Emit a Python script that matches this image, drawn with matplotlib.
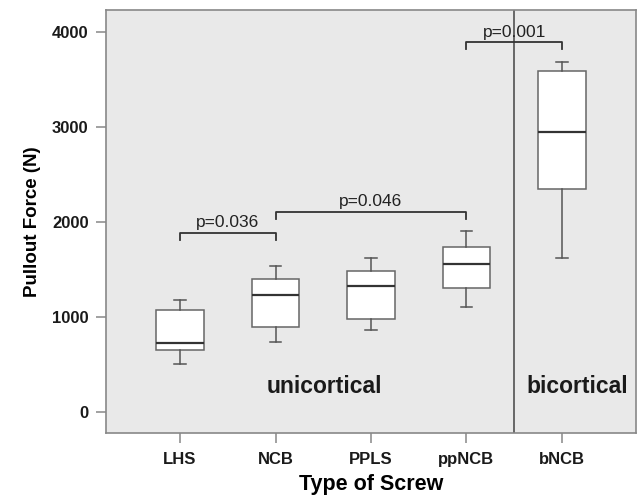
import matplotlib.pyplot as plt

plt.rcParams['font.family'] = ['Liberation Sans', 'DejaVu Sans']

# Screw types and box statistics (N)
screws = ['LHS', 'NCB', 'PPLS', 'ppNCB', 'bNCB']
whisker_low = [505, 737, 863, 1105, 1625]
q1 = [653, 895, 979, 1305, 2347]
median = [726, 1232, 1326, 1558, 2947]
q3 = [1074, 1400, 1484, 1737, 3589]
whisker_high = [1179, 1537, 1621, 1905, 3684]

# significance brackets: (left group, right group, bar height, p label)
brackets = [
    (1, 2, 1884, 'p=0.036'),
    (2, 4, 2105, 'p=0.046'),
    (4, 5, 3890, 'p=0.001'),
]

fig = plt.figure(figsize=(6.39, 4.96), dpi=100)
ax = fig.add_axes([106 / 639, 1 - 433 / 496, 530 / 639, 423 / 496])
ax.set_facecolor('#e9e9e9')

stats = []
for i, name in enumerate(screws):
    stats.append({
        'label': name, 'whislo': whisker_low[i], 'q1': q1[i], 'med': median[i],
        'q3': q3[i], 'whishi': whisker_high[i], 'fliers': [],
    })

line = dict(color='#555555', linewidth=1.1)
ax.bxp(stats, positions=range(1, 6), widths=0.5, capwidths=0.12,
       patch_artist=True, showfliers=False,
       boxprops=dict(facecolor='white', edgecolor='#666666', linewidth=1.1),
       whiskerprops=line, capprops=line,
       medianprops=dict(color='#333333', linewidth=1.6))

# divider between unicortical and bicortical
ax.axvline(4.5, color='#444444', linewidth=1.1)

for a, b, h, txt in brackets:
    drop = 70
    ax.plot([a, a, b, b], [h - drop, h, h, h - drop], color='#333333', linewidth=1.3)
    ax.text((a + b) / 2, h + 62, txt, ha='center', va='baseline', fontsize=12.5, color='#222222')

ax.text(2.51, 270, 'unicortical', ha='center', va='center', fontsize=16.5, fontweight='bold', color='#1a1a1a')
ax.text(5.16, 270, 'bicortical', ha='center', va='center', fontsize=16.5, fontweight='bold', color='#1a1a1a')

ax.set_xlim(0.225, 5.775)
ax.set_ylim(-221, 4232)
ax.set_yticks([0, 1000, 2000, 3000, 4000])
ax.set_xticks(range(1, 6))
ax.set_xticklabels(screws)

for s in ax.spines.values():
    s.set_color('#888888')
    s.set_linewidth(1.2)
ax.tick_params(direction='out', length=7.5, width=1.1, color='#888888', labelsize=12)
ax.tick_params(axis='y', pad=5)
ax.tick_params(axis='x', pad=6.5)
for lbl in ax.get_xticklabels() + ax.get_yticklabels():
    lbl.set_fontweight('bold')
    lbl.set_color('#1a1a1a')

ax.set_xlabel('Type of Screw', fontsize=15.5, fontweight='bold', labelpad=5)
ax.set_ylabel('Pullout Force (N)', fontsize=13.5, fontweight='bold', labelpad=8)

fig.savefig('out.png', dpi=100)
